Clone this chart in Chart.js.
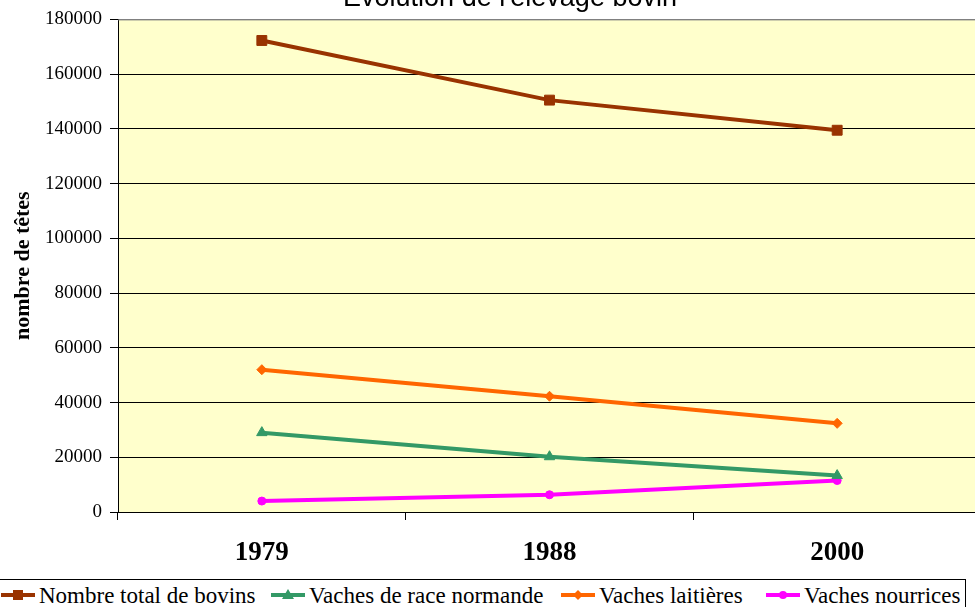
<!DOCTYPE html>
<html>
<head>
<meta charset="utf-8">
<script src="https://cdn.jsdelivr.net/npm/chart.js@4/dist/chart.umd.min.js"></script>
<style>
  html, body { margin: 0; padding: 0; background: #fff; overflow: hidden; width: 975px; height: 607px; }
  #wrap { position: relative; width: 975px; height: 607px; overflow: hidden; }
  #chart { position: absolute; left: 0; top: 0; }
  #legend {
    position: absolute; left: -2px; top: 579px; width: 966px; height: 40px;
    border: 1px solid #000; background: #fff;
    font-family: 'Liberation Serif', 'Times New Roman', serif; font-size: 23px; color: #000;
  }
  .item { position: absolute; top: 3px; white-space: nowrap; line-height: 25px; }
  .item svg { vertical-align: middle; margin-right: 4px; position: relative; top: -3px; }
</style>
</head>
<body>
<div id="wrap">
  <canvas id="chart" width="989" height="575"></canvas>
  <div id="legend"></div>
</div>
<script>
/* Evolution de l'élevage bovin — line chart */

const YEARS       = ['1979', '1988', '2000'];
const TOTAL       = [172300, 150500, 139500];
const NORMANDE    = [29000, 20200, 13300];
const LAITIERES   = [52000, 42300, 32400];
const NOURRICES   = [4000, 6300, 11500];
const Y_MAX  = 180000;
const Y_STEP = 20000;

const SERIES = [
  { label: 'Nombre total de bovins',  data: TOTAL,     color: '#993300', style: 'rect',     radius: 7, left: 2 },
  { label: 'Vaches de race normande', data: NORMANDE,  color: '#339966', style: 'triangle', radius: 6, left: 272 },
  { label: 'Vaches laitières',        data: LAITIERES, color: '#FF6600', style: 'rectRot',  radius: 5, left: 562 },
  { label: 'Vaches nourrices',        data: NOURRICES, color: '#FF00FF', style: 'circle',   radius: 4, left: 767 },
];

const SERIF = "'Liberation Serif', 'Times New Roman', serif";

// plot background + top border + title
const plotDecor = {
  id: 'plotDecor',
  beforeDraw(chart) {
    const { ctx, chartArea: a } = chart;
    ctx.save();
    ctx.fillStyle = '#FFFFCC';
    ctx.fillRect(a.left, a.top, a.right - a.left, a.bottom - a.top);
    ctx.restore();
  },
  afterDraw(chart) {
    const { ctx, chartArea: a } = chart;
    ctx.save();
    ctx.strokeStyle = '#808080';
    ctx.lineWidth = 1;
    ctx.beginPath();
    ctx.moveTo(a.left, a.top + 0.5);
    ctx.lineTo(a.right, a.top + 0.5);
    ctx.stroke();
    ctx.fillStyle = '#000';
    ctx.font = "27px 'Liberation Sans', Arial, sans-serif";
    ctx.textAlign = 'center';
    ctx.textBaseline = 'alphabetic';
    ctx.fillText("Evolution de l'élevage bovin", 510, 6);
    ctx.restore();
  },
};

new Chart(document.getElementById('chart'), {
  type: 'line',
  data: {
    labels: YEARS,
    datasets: SERIES.map(s => ({
      label: s.label,
      data: s.data,
      borderColor: s.color, backgroundColor: s.color,
      borderWidth: 4, tension: 0,
      pointStyle: s.style, pointRadius: s.radius, pointHoverRadius: s.radius,
      pointBorderWidth: 1, pointBorderColor: s.color, pointBackgroundColor: s.color,
    })),
  },
  options: {
    responsive: false, animation: false, devicePixelRatio: 1,
    layout: { padding: { top: 18, left: 0, right: 0, bottom: 0 } },
    plugins: { legend: { display: false }, tooltip: { enabled: false } },
    scales: {
      x: {
        offset: true,
        afterFit(scale) { scale.height = 63; },
        grid: { display: true, drawOnChartArea: false, drawTicks: true, tickLength: 8, offset: true, color: '#000', tickColor: '#000' },
        border: { display: true, color: '#000', width: 1 },
        ticks: { color: '#000', padding: 17, font: { family: SERIF, size: 27, weight: 'bold' } },
      },
      y: {
        min: 0, max: Y_MAX,
        afterFit(scale) { scale.width = 118; },
        grid: {
          color: c => (c.tick && c.tick.value === Y_MAX ? '#808080' : '#000'),
          tickColor: '#000', tickLength: 8, lineWidth: 1,
        },
        border: { display: true, color: '#000', width: 1 },
        ticks: { stepSize: Y_STEP, color: '#000', padding: 8, font: { family: SERIF, size: 19 }, callback: v => String(v) },
        title: {
          display: true, text: 'nombre de têtes', color: '#000',
          font: { family: SERIF, size: 22, weight: 'bold' },
          padding: { top: 10, bottom: 0 },
        },
      },
    },
  },
  plugins: [plotDecor],
});

// legend box
const legend = document.getElementById('legend');
function markerSvg(s) {
  let m = '';
  if (s.style === 'rect') m = '<rect x="12" y="6" width="10" height="10" fill="' + s.color + '"/>';
  else if (s.style === 'triangle') m = '<polygon points="17,5 23,15 11,15" fill="' + s.color + '"/>';
  else if (s.style === 'rectRot') m = '<polygon points="17,6 22,11 17,16 12,11" fill="' + s.color + '"/>';
  else m = '<circle cx="17" cy="11" r="4" fill="' + s.color + '"/>';
  return '<svg width="34" height="22"><line x1="0" y1="11" x2="34" y2="11" stroke="' + s.color + '" stroke-width="4"/>' + m + '</svg>';
}
SERIES.forEach(s => {
  const el = document.createElement('div');
  el.className = 'item';
  el.style.left = s.left + 'px';
  el.innerHTML = markerSvg(s) + '<span>' + s.label + '</span>';
  legend.appendChild(el);
});
</script>
</body>
</html>
